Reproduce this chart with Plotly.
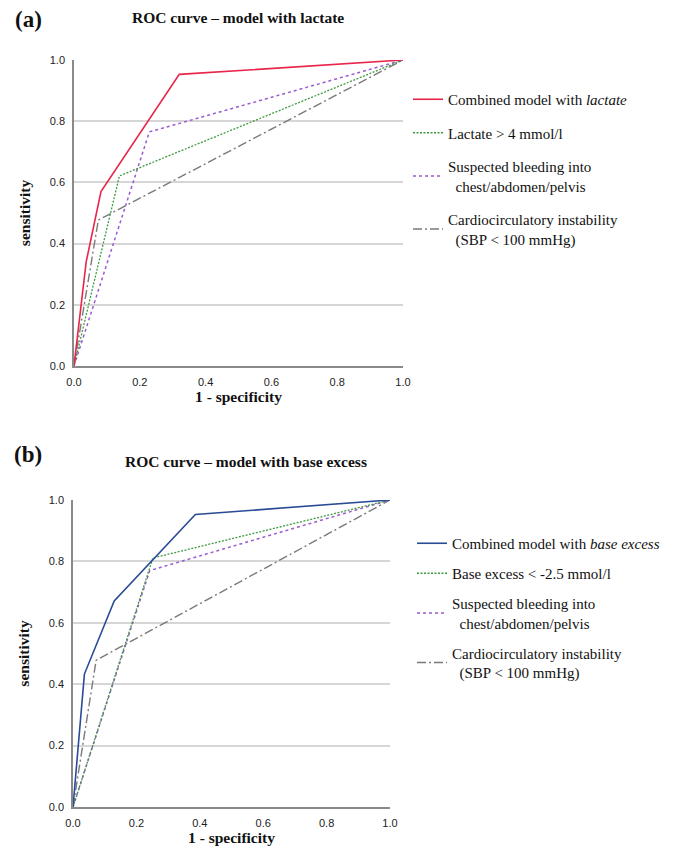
import plotly.graph_objects as go

# (a) model with lactate
fpr_lac_model = [0, 0.037, 0.082, 0.32, 1.0]
tpr_lac_model = [0, 0.34, 0.57, 0.953, 1.0]
fpr_lactate = [0, 0.138, 1.0]
tpr_lactate = [0, 0.621, 1.0]
fpr_bleed_a = [0, 0.229, 1.0]
tpr_bleed_a = [0, 0.765, 1.0]
fpr_sbp_a = [0, 0.074, 1.0]
tpr_sbp_a = [0, 0.477, 1.0]

# (b) model with base excess
fpr_be_model = [0, 0.036, 0.130, 0.386, 1.0]
tpr_be_model = [0, 0.433, 0.671, 0.953, 1.0]
fpr_be = [0, 0.252, 1.0]
tpr_be = [0, 0.811, 1.0]
fpr_bleed_b = [0, 0.242, 1.0]
tpr_bleed_b = [0, 0.770, 1.0]
fpr_sbp_b = [0, 0.073, 1.0]
tpr_sbp_b = [0, 0.478, 1.0]

tick_vals = [0, 0.2, 0.4, 0.6, 0.8, 1.0]

# the page body has an 8px margin, so the figure is a bit smaller and
# page pixel positions are converted with that offset
OFF = 8
W, H = 685 - OFF, 862 - OFF
SERIF = "Liberation Serif"
SANS = "Liberation Sans"


def px(x):
    return (x - OFF) / W


def py(y):
    return 1 - (y - OFF) / H


fig = go.Figure()

# drawing order: gray, purple, green, model on top; legend order via legendrank
def add(x, y, name, color, dash, width, xa, ya, leg, rank):
    fig.add_trace(go.Scatter(x=x, y=y, mode="lines", name=name,
                             line=dict(color=color, dash=dash, width=width),
                             xaxis=xa, yaxis=ya, legend=leg, legendrank=rank,
                             legendgroup=name + leg, cliponaxis=False))

add(fpr_sbp_a, tpr_sbp_a, "Cardiocirculatory instability<br>  (SBP < 100 mmHg)",
    "#7a7a7a", "9px,3px,2px,3px", 1.4, "x", "y", "legend", 4)
add(fpr_bleed_a, tpr_bleed_a, "Suspected bleeding into<br>  chest/abdomen/pelvis",
    "#9b5bd0", "3px,3px", 1.5, "x", "y", "legend", 3)
add(fpr_lactate, tpr_lactate, "Lactate > 4 mmol/l",
    "#3f9a3f", "2px,1.5px", 1.3, "x", "y", "legend", 2)
add(fpr_lac_model, tpr_lac_model, "Combined model with <i>lactate</i>",
    "#e8254a", "solid", 1.6, "x", "y", "legend", 1)

add(fpr_sbp_b, tpr_sbp_b, "Cardiocirculatory instability<br>  (SBP < 100 mmHg)",
    "#7a7a7a", "9px,3px,2px,3px", 1.4, "x2", "y2", "legend2", 4)
add(fpr_bleed_b, tpr_bleed_b, "Suspected bleeding into<br>  chest/abdomen/pelvis",
    "#9b5bd0", "3px,3px", 1.5, "x2", "y2", "legend2", 3)
add(fpr_be, tpr_be, "Base excess < -2.5 mmol/l",
    "#3f9a3f", "2px,1.5px", 1.3, "x2", "y2", "legend2", 2)
add(fpr_be_model, tpr_be_model, "Combined model with <i>base excess</i>",
    "#2a4b96", "solid", 1.6, "x2", "y2", "legend2", 1)

xax = dict(range=[0, 1], tickvals=tick_vals, tickformat=".1f", showgrid=False,
           zeroline=False, showline=True, linecolor="#8a8a8a", linewidth=1.5,
           ticks="", ticklabelstandoff=5, automargin=False,
           tickfont=dict(family=SANS, size=11, color="#222"),
           title=dict(text="<b>1 - specificity</b>", standoff=4,
                      font=dict(family=SERIF, size=15.5, color="#111")))
yax = dict(range=[0, 1], tickvals=tick_vals, tickformat=".1f", showgrid=True,
           gridcolor="#d6d6d6", gridwidth=1.5, zeroline=False, showline=True,
           linecolor="#8a8a8a", linewidth=1.5, ticks="", ticklabelstandoff=5,
           automargin=False,
           tickfont=dict(family=SANS, size=11, color="#222"),
           title=dict(text="<b>sensitivity</b>", standoff=15,
                      font=dict(family=SERIF, size=15.5, color="#111")))

leg = dict(font=dict(family=SERIF, size=15, color="#111"), bgcolor="rgba(0,0,0,0)",
           xref="paper", yref="paper", xanchor="left", yanchor="top",
           traceorder="grouped")

fig.update_layout(
    width=W, height=H, margin=dict(l=0, r=0, t=0, b=0, autoexpand=False),
    paper_bgcolor="white", plot_bgcolor="white", showlegend=True,
    xaxis=dict(xax, domain=[px(74), px(403)], anchor="y"),
    yaxis=dict(yax, domain=[py(366), py(60)], anchor="x"),
    xaxis2=dict(xax, domain=[px(73), px(390)], anchor="y2"),
    yaxis2=dict(yax, domain=[py(807), py(500)], anchor="x2"),
    legend=dict(leg, x=px(408), y=py(83), tracegroupgap=11),
    legend2=dict(leg, x=px(412), y=py(527), tracegroupgap=7.5),
)

annots = [
    ("<b>(a)</b>", 28, 19, 23),
    ("<b>ROC curve – model with lactate</b>", 238, 17, 15.5),
    ("<b>(b)</b>", 28, 454, 23),
    ("<b>ROC curve – model with base excess</b>", 246, 461, 15.5),
]
for text, ax, ay, size in annots:
    fig.add_annotation(text=text, x=px(ax), y=py(ay), xref="paper", yref="paper",
                       showarrow=False, xanchor="center", yanchor="middle",
                       font=dict(family=SERIF, size=size, color="#111"))

fig.write_html("out.html")
